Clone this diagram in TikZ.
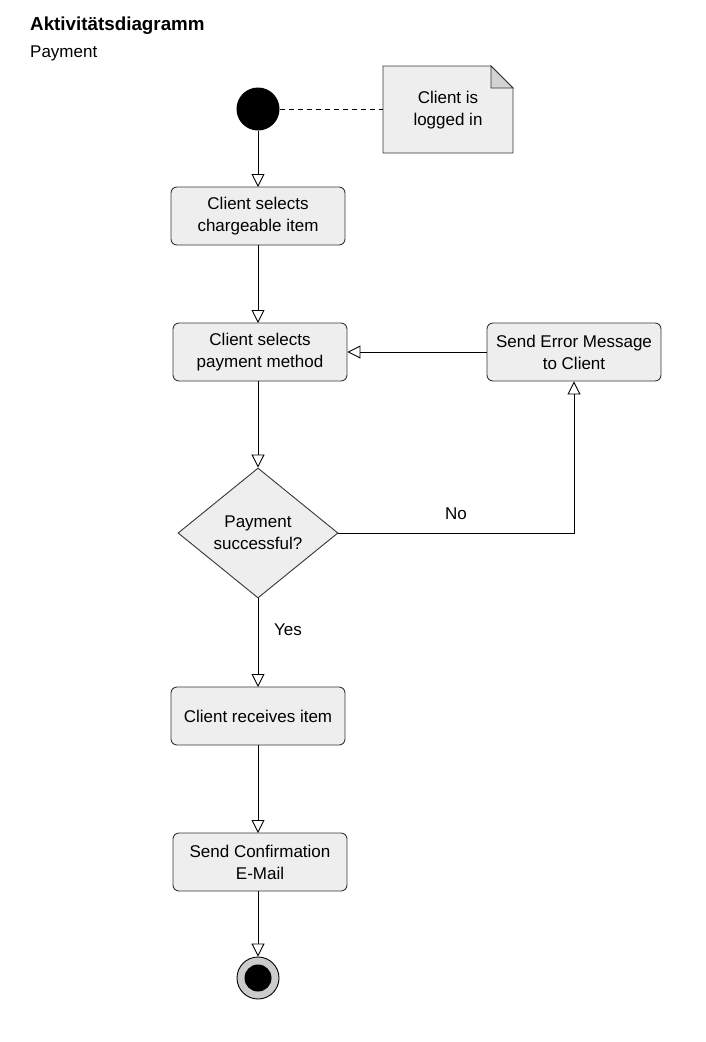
\documentclass[tikz,border=0pt]{standalone}
\usepackage{fontspec}
\setmainfont{Liberation Sans}
\usetikzlibrary{arrows.meta,shapes.geometric,positioning}
\definecolor{boxfill}{HTML}{EEEEEE}
\definecolor{boxline}{HTML}{363636}
\definecolor{endfill}{HTML}{CCCCCC}
\begin{document}
\begin{tikzpicture}[x=1pt,y=-1pt,
  every node/.style={font=\fontsize{17}{22}\selectfont},
  actbox/.style={draw=boxline, fill=boxfill, rounded corners=6pt, line width=0.9pt, minimum width=174pt, minimum height=58pt, align=center, inner sep=0pt},
  decision/.style={draw=boxline, fill=boxfill, diamond, line width=0.9pt, minimum width=160pt, minimum height=130pt, align=center, inner sep=0pt},
  flow/.style={line width=0.9pt, draw=black, -{Triangle[open, length=13pt, width=13pt, line width=0.9pt]}},
  lbl/.style={font=\fontsize{17}{20}\selectfont}
]
\useasboundingbox (0,0) rectangle (705,1042);
\fill[white] (0,0) rectangle (705,1042);

\node[anchor=base west, inner sep=0pt, font=\fontsize{18.8}{22}\selectfont\bfseries] (title) at (30,30) {Aktivitätsdiagramm};
\node[anchor=base west, inner sep=0pt, font=\fontsize{17}{20}\selectfont] (sub) at (30,57) {Payment};

% start
\node[circle, fill=black, minimum size=43pt, inner sep=0pt] (start) at (258,109) {};

% note
\draw[draw=boxline, fill=boxfill, line width=0.9pt] (383,66) -- (491,66) -- (513,88) -- (513,153) -- (383,153) -- cycle;
\draw[draw=boxline, fill=endfill!80!boxfill, line width=0.9pt] (491,66) -- (491,88) -- (513,88) -- cycle;
\node[align=center, font=\fontsize{17}{22}\selectfont] (note) at (448,110) {Client is\\logged in};
\coordinate (noteleft) at (383,109);
\draw[dashed, line width=0.9pt, dash pattern=on 5pt off 4pt] (start.east) -- (noteleft);

\node[actbox] (b1) at (258,216) {Client selects\\chargeable item};
\node[actbox] (b2) at (260,352) {Client selects\\payment method};
\node[actbox] (err) at (574,352) {Send Error Message\\to Client};
\node[decision] (dec) at (258,533) {Payment\\successful?};
\node[actbox] (b3) at (258,716) {Client receives item};
\node[actbox] (b4) at (260,862) {Send Confirmation\\E-Mail};

% end
\node[circle, draw=black, fill=endfill, line width=0.9pt, minimum size=42pt, inner sep=0pt] (end) at (258,978) {};
\node[circle, fill=black, minimum size=27pt, inner sep=0pt] (endin) at (258,978) {};

\draw[flow] (start.south) -- (258,187);
\draw[flow] (258,245) -- (258,323);
\draw[flow] (258,381) -- (dec.north);
\draw[flow] (dec.east) -| (err.south);
\draw[flow] (err.west) -- (b2.east);
\draw[flow] (dec.south) -- (258,687);
\draw[flow] (258,745) -- (258,833);
\draw[flow] (258,891) -- (end.north);

\node[lbl] (no) at (456,514) {No};
\node[lbl] (yes) at (288,630) {Yes};
\end{tikzpicture}
\end{document}
